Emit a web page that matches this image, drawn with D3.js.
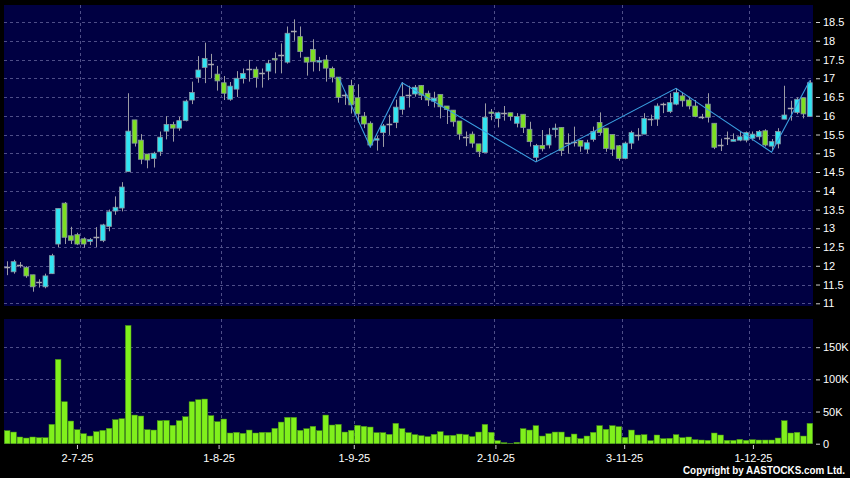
<!DOCTYPE html>
<html><head><meta charset="utf-8">
<script src="https://cdn.jsdelivr.net/npm/d3@7"></script>
<style>html,body{margin:0;padding:0;background:#000;} svg{display:block;}</style>
</head><body>
<svg id="c" width="850" height="478"></svg>
<script>
// ---- data ----
const openP  = [11.96,11.84,12.03,11.96,11.76,11.58,11.44,11.79,12.58,13.67,12.80,12.83,12.72,12.65,12.78,12.67,13.05,13.46,13.54,14.51,
15.89,15.35,14.98,14.86,15.04,15.59,15.77,15.67,15.87,16.42,17.02,17.29,17.38,17.11,16.88,16.44,16.71,16.99,17.26,17.24,
17.13,17.19,17.53,17.62,17.43,18.27,18.11,17.56,17.77,17.43,17.49,17.26,17.03,16.55,16.81,16.48,15.99,15.80,15.35,15.55,
15.78,15.82,16.17,16.55,16.58,16.81,16.60,16.39,16.57,16.26,16.15,15.86,15.43,15.51,15.25,15.02,16.10,15.93,16.07,16.08,
15.80,16.04,15.64,14.89,15.21,15.22,15.63,15.69,15.27,15.31,15.34,15.11,15.37,15.82,15.67,15.50,15.20,14.86,15.27,15.49,
15.51,15.91,15.91,16.31,16.11,16.31,16.53,16.42,16.26,15.98,16.31,15.80,15.22,15.40,15.32,15.35,15.35,15.40,15.44,15.60,
15.19,15.25,15.91,16.20,16.09,16.48,15.98];
const highP  = [12.12,12.16,12.10,11.99,11.76,11.64,11.79,12.32,13.53,13.70,13.04,12.88,12.76,12.74,13.03,13.12,13.50,13.85,14.23,16.60,
15.89,15.51,14.98,15.04,15.58,15.99,15.84,15.97,16.43,16.91,17.59,17.95,17.65,17.33,17.06,16.90,17.19,17.26,17.49,17.31,
17.26,17.49,17.69,17.93,18.38,18.57,18.38,17.56,18.04,17.57,17.62,17.31,17.03,16.60,16.96,16.84,16.10,15.85,15.46,15.78,
16.03,16.43,16.90,16.80,16.82,16.82,16.67,16.64,16.57,16.26,16.15,15.86,15.58,15.58,15.25,16.33,16.18,16.11,16.26,16.08,
16.07,16.04,15.84,15.25,15.62,15.67,15.79,15.69,15.53,15.71,15.34,15.36,15.71,16.09,15.67,15.50,15.22,15.31,15.60,15.67,
16.07,16.03,16.33,16.35,16.60,16.73,16.62,16.51,16.42,16.05,16.60,15.80,15.39,15.58,15.53,15.58,15.58,15.58,15.62,15.64,
15.38,15.67,16.80,16.40,16.49,16.48,16.95];
const lowP   = [11.75,11.79,11.95,11.68,11.31,11.42,11.40,11.78,12.50,12.58,12.58,12.55,12.48,12.55,12.50,12.63,12.92,13.36,13.45,14.51,
15.18,14.71,14.60,14.62,14.93,15.37,15.31,15.60,15.85,16.31,16.88,16.87,17.00,16.67,16.42,16.40,16.50,16.86,16.91,16.75,
16.75,16.95,17.13,17.13,17.39,18.00,17.55,17.07,17.18,17.19,16.91,16.89,16.35,16.29,16.06,15.82,15.67,15.16,15.07,15.17,
15.49,15.67,16.03,16.22,16.51,16.42,16.26,16.22,15.93,15.78,15.71,15.36,15.19,15.15,14.90,15.02,15.88,15.69,15.87,15.87,
15.69,15.54,15.18,14.78,15.05,15.13,15.42,14.93,14.99,15.18,15.04,15.00,15.31,15.49,15.04,14.93,14.80,14.84,15.11,15.34,
15.51,15.73,15.73,16.07,16.07,16.28,16.24,16.17,15.96,15.91,15.82,15.11,15.06,15.22,15.32,15.32,15.29,15.34,15.36,15.18,
15.09,15.13,15.91,15.87,16.04,15.93,15.98];
const closeP = [11.96,12.11,12.03,11.73,11.44,11.58,11.73,12.27,13.53,12.76,12.68,12.58,12.58,12.70,12.78,13.09,13.44,13.56,14.10,15.59,
15.27,14.84,14.82,15.00,15.43,15.77,15.67,15.87,16.39,16.62,17.22,17.53,17.38,16.93,16.60,16.79,17.00,17.13,17.26,17.02,
17.13,17.40,17.49,17.62,18.20,18.27,17.71,17.43,17.44,17.47,17.27,17.03,16.49,16.55,16.29,16.05,15.78,15.22,15.39,15.73,
15.78,16.23,16.51,16.55,16.76,16.55,16.42,16.47,16.24,16.17,15.84,15.51,15.43,15.27,15.04,15.96,16.06,16.08,16.07,15.98,
15.98,15.69,15.31,15.21,15.12,15.49,15.67,15.07,15.27,15.31,15.19,15.28,15.58,15.55,15.13,15.11,14.86,15.27,15.55,15.49,
15.93,15.91,16.26,16.31,16.35,16.62,16.40,16.26,15.98,15.98,15.96,15.16,15.22,15.40,15.37,15.44,15.55,15.51,15.58,15.22,
15.31,15.58,16.02,16.20,16.44,16.05,16.88];
const volumeK = [20.2,18.1,10.4,8.8,10.4,9.3,9.3,30,131,65.2,35.2,21.7,15.5,11.9,18.6,20.7,23.8,37.3,38.8,183.7,
44.5,43,21.7,21.2,35.7,36.2,28.5,35.7,41.9,65.2,68.3,69.4,43.5,34.2,38.3,16.6,17.6,16,21.2,16.6,
17.6,17.6,23.8,33.6,40.9,40.9,20.7,23.3,26.9,20.2,44.5,29,30,18.1,20.7,28.5,26.9,25.9,17.1,17.1,
14.5,31.6,23.3,17.1,14,12.4,10.9,14.5,18.6,12.9,12.9,15,14,10.9,18.1,30,17.6,4.7,1.6,0.5,
2,23.3,21.2,28,11.9,15.5,18.1,18.1,10.4,15,7.8,11.9,17.6,28,22.3,28,26.4,9.8,21.2,13.5,
14,4.7,13.5,7.8,8.3,14,9.3,10.4,6.2,5.7,5.2,16.6,13.5,5.2,5.2,6.7,5.2,6.2,5.7,5.7,
5.7,8.8,35.7,16.6,17.6,11.9,31.6];
const monthStartIdx = [12,34,55,77,97,117];
const monthLabels = ["2-7-25","1-8-25","1-9-25","2-10-25","3-11-25","1-12-25"];
const priceTicks = [11,11.5,12,12.5,13,13.5,14,14.5,15,15.5,16,16.5,17,17.5,18,18.5];
const volTicks = [0,50,100,150];
const trendIdx = [52,57,62,83,105,120,126];
const trendPrice = [17.03,15.17,16.88,14.77,16.73,15.03,16.94];

// ---- layout ----
const n = closeP.length;
const plotL = 4, plotR = 813;
const mainT = 5, mainB = 306, volT = 319, volB = 444;
const BG = "#000042", GRID = "#4e4e88", UP = "#30e4f2", DOWN = "#7ddf22", VOL = "#80f01c";
const FONT = "'Liberation Sans', Arial, sans-serif";

const svg = d3.select("#c");
svg.append("rect").attr("width",850).attr("height",478).attr("fill","#000");

const x = d3.scaleBand().domain(d3.range(n)).range([plotL, plotR]).paddingInner(0.25).paddingOuter(0.125);
const xv = d3.scaleBand().domain(d3.range(n)).range([plotL, plotR]).paddingInner(0.12).paddingOuter(0.06);
const xc = i => x(i) + x.bandwidth()/2;
const xLbl = d3.scaleLinear().domain([0, n]).range([-0.3, 817.3]);
const y = d3.scaleLinear().domain([11, 18.5]).range([303.3, 22]);
const yv = d3.scaleLinear().domain([0, 150]).range([443.7, 347.2]);

// panels
svg.append("rect").attr("x",plotL).attr("y",mainT).attr("width",plotR-plotL).attr("height",mainB-mainT).attr("fill",BG);
svg.append("rect").attr("x",plotL).attr("y",volT).attr("width",plotR-plotL).attr("height",volB-volT).attr("fill",BG);

const grid = svg.append("g").attr("stroke",GRID).attr("stroke-width",1).attr("stroke-dasharray","3,3").attr("fill","none");
priceTicks.forEach(t => {
  const yy = Math.round(y(t)) + 0.5;
  grid.append("line").attr("x1",plotL).attr("x2",plotR).attr("y1",yy).attr("y2",yy);
});
volTicks.filter(t => t > 0).forEach(t => {
  const yy = Math.round(yv(t)) + 0.5;
  grid.append("line").attr("x1",plotL).attr("x2",plotR).attr("y1",yy).attr("y2",yy);
});
monthStartIdx.forEach(i => {
  const gx = Math.round(xc(i) - x.step()/2) + 0.5;
  grid.append("line").attr("x1",gx).attr("x2",gx).attr("y1",mainT).attr("y2",mainB);
  grid.append("line").attr("x1",gx).attr("x2",gx).attr("y1",volT).attr("y2",volB);
});

// candles
const idx = d3.range(n);
const cg = svg.append("g");
cg.selectAll("line.wick").data(idx).join("line").attr("class","wick")
  .attr("x1", i => Math.round(xc(i)) + 0.5).attr("x2", i => Math.round(xc(i)) + 0.5)
  .attr("y1", i => y(highP[i])).attr("y2", i => y(lowP[i]))
  .attr("stroke","#9c9ca4").attr("stroke-width",1);
const isDoji = i => Math.abs(closeP[i] - openP[i]) < 0.005;
cg.selectAll("rect.body").data(idx.filter(i => !isDoji(i))).join("rect").attr("class","body")
  .attr("x", i => x(i)).attr("width", x.bandwidth())
  .attr("y", i => y(Math.max(openP[i], closeP[i])))
  .attr("height", i => Math.max(1.5, Math.abs(y(openP[i]) - y(closeP[i]))))
  .attr("fill", i => closeP[i] > openP[i] ? UP : DOWN)
  .attr("stroke","#8896a4").attr("stroke-width",0.8);
cg.selectAll("line.doji").data(idx.filter(isDoji)).join("line").attr("class","doji")
  .attr("x1", i => x(i) - 0.5).attr("x2", i => x(i) + x.bandwidth() + 0.5)
  .attr("y1", i => Math.round(y(closeP[i])) + 0.5).attr("y2", i => Math.round(y(closeP[i])) + 0.5)
  .attr("stroke","#a8a8b0").attr("stroke-width",1.5);

// trend line
const line = d3.line().x(d => xc(d[0])).y(d => y(d[1]));
svg.append("path").datum(trendIdx.map((k, j) => [k, trendPrice[j]]))
  .attr("d", line).attr("fill","none").attr("stroke","#3a9fe0").attr("stroke-width",1.1);

// volume bars
svg.append("g").selectAll("rect").data(idx).join("rect")
  .attr("x", i => xv(i)).attr("width", xv.bandwidth())
  .attr("y", i => yv(volumeK[i])).attr("height", i => yv(0) - yv(volumeK[i]))
  .attr("fill", VOL).attr("stroke","#4a9a12").attr("stroke-width",0.5);

// axes
function styleAxis(g){
  g.select(".domain").remove();
  g.selectAll("line").attr("stroke","#cfcfcf");
  g.selectAll("text").attr("fill","#fff").style("font-family",FONT).style("font-size","11px");
}
svg.append("g").attr("transform","translate(816,0)")
  .call(d3.axisRight(y).tickValues(priceTicks).tickSize(4).tickPadding(3).tickFormat(d => String(d)))
  .call(styleAxis);
svg.append("g").attr("transform","translate(816,0)")
  .call(d3.axisRight(yv).tickValues(volTicks).tickSize(4).tickPadding(3).tickFormat(d => d ? d + "K" : "0"))
  .call(styleAxis);
svg.append("g").attr("transform","translate(0,445)")
  .call(d3.axisBottom(xLbl).tickValues(monthStartIdx).tickSize(4).tickPadding(5).tickFormat((d, j) => monthLabels[j]))
  .call(styleAxis);

svg.append("text").attr("x",845).attr("y",474).attr("text-anchor","end")
  .attr("fill","#fff").style("font-family",FONT).style("font-size","10px").style("font-weight","bold")
  .attr("textLength",162).attr("lengthAdjust","spacingAndGlyphs")
  .text("Copyright by AASTOCKS.com Ltd.");
</script>
</body></html>
